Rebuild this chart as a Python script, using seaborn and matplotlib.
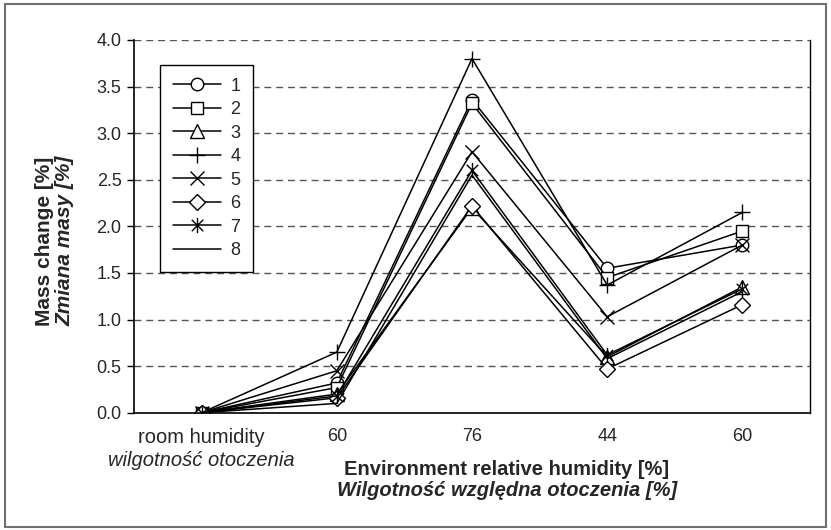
import numpy as np
import pandas as pd
import seaborn as sns
import matplotlib
matplotlib.use("Agg")
import matplotlib.pyplot as plt
from matplotlib.path import Path
from matplotlib.patches import Rectangle
from matplotlib.transforms import blended_transform_factory

# ---- data ----
x_labels = ["room humidity", "60", "76", "44", "60"]
x_sub_first = "wilgotność otoczenia"
series_names = ["1", "2", "3", "4", "5", "6", "7", "8"]
s1 = [0.0, 0.32, 3.36, 1.55, 1.80]
s2 = [0.0, 0.27, 3.32, 1.45, 1.95]
s3 = [0.0, 0.20, 2.20, 0.60, 1.35]
s4 = [0.0, 0.65, 3.80, 1.37, 2.15]
s5 = [0.0, 0.45, 2.80, 1.03, 1.80]
s6 = [0.0, 0.16, 2.22, 0.47, 1.16]
s7 = [0.0, 0.18, 2.60, 0.62, 1.33]
s8 = [0.0, 0.10, 2.55, 0.58, 1.30]
all_series = [s1, s2, s3, s4, s5, s6, s7, s8]

sns.set_style("white")
plt.rcParams['font.family'] = ['Liberation Sans', 'DejaVu Sans']

star = Path([(0, -1), (0, 1), (-0.75, -0.75), (0.75, 0.75), (-0.75, 0.75), (0.75, -0.75)],
            [Path.MOVETO, Path.LINETO, Path.MOVETO, Path.LINETO, Path.MOVETO, Path.LINETO])
markers = ['o', 's', '^', '+', 'x', 'D', star, None]
msizes = [9, 9, 9.5, 12, 9.5, 8, 11, 0]

W, H = 831, 530
fig = plt.figure(figsize=(W/100, H/100), dpi=100)
ax_l, ax_r, ax_t, ax_b = 134, 810, 40, 412.7
ax = fig.add_axes([ax_l/W, 1 - ax_b/H, (ax_r-ax_l)/W, (ax_b-ax_t)/H])

pos = np.arange(len(x_labels))
for name, vals, m, ms in zip(series_names, all_series, markers, msizes):
    df = pd.DataFrame({"x": pos, "y": vals})
    kw = dict(marker=m, markersize=ms, markerfacecolor='white', markeredgecolor='black',
              markeredgewidth=1.0) if m is not None else {}
    sns.lineplot(data=df, x="x", y="y", color='black', linewidth=1.1, label=name,
                 ax=ax, **kw)

ax.set_xlim(-0.5, len(x_labels) - 0.5)
ax.set_ylim(0, 4.0)
yt = np.arange(0, 4.01, 0.5)
ax.set_yticks(yt)
ax.set_yticklabels([f"{v:.1f}" for v in yt], fontsize=13)
ax.set_xticks(pos)
ax.set_xticklabels(x_labels, fontsize=13)
ax.get_xticklabels()[0].set_fontsize(14.5)
ax.set_xticks(np.arange(-0.5, len(x_labels), 1.0), minor=True)
ax.tick_params(axis='x', which='major', length=0, pad=11)
ax.tick_params(axis='x', which='minor', direction='inout', length=10, width=1, color='black')
ax.tick_params(axis='y', which='major', direction='out', length=5, width=1, color='black',
               left=True, pad=4)

trx = blended_transform_factory(ax.transData, fig.transFigure)
ax.text(0, 1 - 466/H, x_sub_first, transform=trx, ha='center', va='baseline',
        fontsize=14.5, style='italic')

ax.yaxis.grid(True, linestyle=(0, (5, 3.5)), color='#555555', linewidth=1.0)
ax.set_axisbelow(True)
for s in ['left', 'bottom', 'right']:
    ax.spines[s].set_color('black')
    ax.spines[s].set_linewidth(1.2)
ax.spines['right'].set_linewidth(1.0)
ax.spines['top'].set_visible(False)

ax.set_xlabel("")
ax.set_ylabel("")
fig.text(50/W, 1 - 241/H, "Mass change [%]", rotation=90, rotation_mode='anchor',
         ha='center', va='baseline', fontsize=15, fontweight='bold')
fig.text(70/W, 1 - 241/H, "Zmiana masy [%]", rotation=90, rotation_mode='anchor',
         ha='center', va='baseline', fontsize=15, fontweight='bold', style='italic')
fig.text(507/W, 1 - 475/H, "Environment relative humidity [%]", ha='center', va='baseline',
         fontsize=14.5, fontweight='bold')
fig.text(507/W, 1 - 496/H, "Wilgotność względna otoczenia [%]", ha='center', va='baseline',
         fontsize=14.5, fontweight='bold', style='italic')

leg = ax.legend(loc='upper left', bbox_to_anchor=((160-ax_l)/(ax_r-ax_l), (ax_b-65)/(ax_b-ax_t)),
                borderaxespad=0, fontsize=13, handlelength=2.7, labelspacing=0.36,
                frameon=True, fancybox=False, edgecolor='black', framealpha=1,
                handletextpad=0.5, borderpad=0.7)
leg.get_frame().set_linewidth(1.0)

fig.patches.append(Rectangle((5/W, 3/H), 821/W, 523/H, transform=fig.transFigure,
                             fill=False, edgecolor='#707070', linewidth=1.5))

fig.savefig("out.png", dpi=100)
